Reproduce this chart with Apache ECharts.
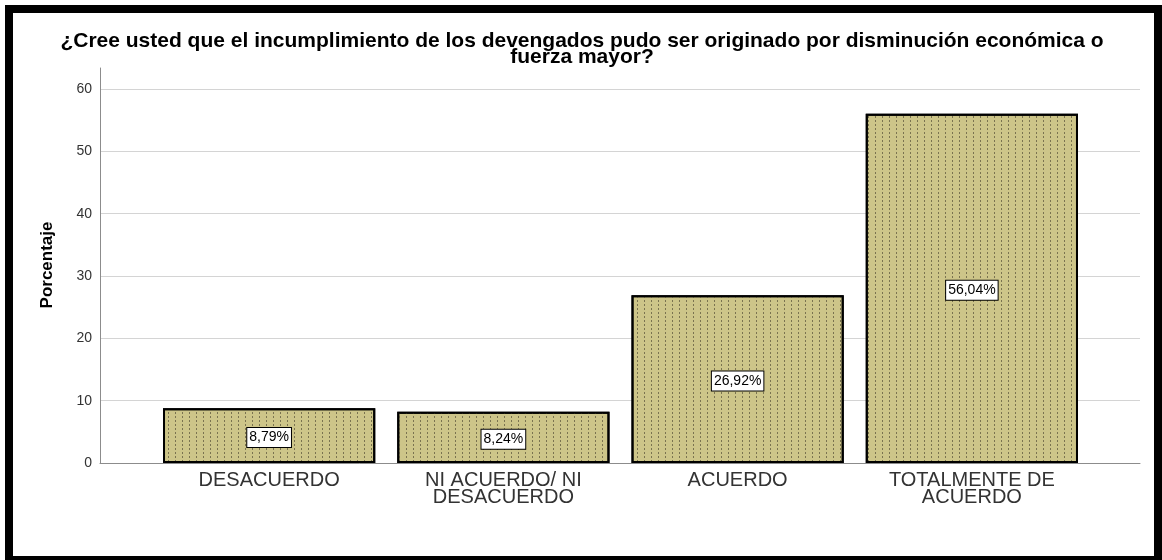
<!DOCTYPE html>
<html>
<head>
<meta charset="utf-8">
<script src="https://cdn.jsdelivr.net/npm/echarts@6/dist/echarts.min.js"></script>
<style>
html,body{margin:0;padding:0;background:#fff;}
#chart{width:1162px;height:560px;}
</style>
</head>
<body>
<div id="chart"></div>
<script>
const titleText = '¿Cree usted que el incumplimiento de los devengados pudo ser originado por disminución económica o\nfuerza mayor?';
const categories = ['DESACUERDO', 'NI ACUERDO/ NI\nDESACUERDO', 'ACUERDO', 'TOTALMENTE DE\nACUERDO'];
const percentages = [8.79, 8.24, 26.92, 56.04];
const yAxisName = 'Porcentaje';
const yMin = 0, yMax = 60, yStep = 10;

const chart = echarts.init(document.getElementById('chart'), null, {renderer: 'canvas'});
const FONT = 'Liberation Sans, Arial, sans-serif';

chart.setOption({
  backgroundColor: '#fff',
  animation: false,
  title: {
    text: titleText,
    left: 582,
    top: 33,
    padding: 0,
    textAlign: 'center',
    textStyle: {fontFamily: FONT, fontWeight: 'bold', fontSize: 21, lineHeight: 16, color: '#000'}
  },
  grid: [
    {left: 100, right: 22, top: 89, bottom: 97},
    {left: 152, right: 73, top: 89, bottom: 97},
    {left: 100, right: 22, top: 68, bottom: 97}
  ],
  xAxis: [
    {gridIndex: 0, type: 'category', data: [''], axisLine: {show: true, lineStyle: {color: '#8c8c8c', width: 1}},
     axisTick: {show: false}, axisLabel: {show: false}},
    {gridIndex: 1, type: 'category', data: categories, axisLine: {show: false}, axisTick: {show: false},
     axisLabel: {fontFamily: FONT, fontSize: 20, lineHeight: 17, color: '#333', margin: 9, interval: 0}},
    {gridIndex: 2, type: 'category', data: [''], show: false}
  ],
  yAxis: [
    {gridIndex: 0, type: 'value', min: yMin, max: yMax, interval: yStep,
     axisLine: {show: false}, axisTick: {show: false},
     splitLine: {show: true, lineStyle: {color: '#d4d4d4', width: 1}},
     axisLabel: {fontFamily: FONT, fontSize: 14, color: '#333', margin: 8},
     name: yAxisName, nameLocation: 'middle', nameGap: 44,
     nameTextStyle: {fontFamily: FONT, fontWeight: 'bold', fontSize: 17, color: '#000', padding: [0, 0, 0, 22]}},
    {gridIndex: 1, type: 'value', min: yMin, max: yMax, interval: yStep, show: false},
    {gridIndex: 2, type: 'value', min: 0, max: 1, axisLine: {show: true, lineStyle: {color: '#8c8c8c', width: 1}},
     axisTick: {show: false}, axisLabel: {show: false}, splitLine: {show: false}}
  ],
  series: [{
    type: 'bar',
    xAxisIndex: 1,
    yAxisIndex: 1,
    data: percentages,
    barCategoryGap: '9.4%',
    itemStyle: {
      color: '#cdc589',
      borderColor: '#000',
      borderWidth: 2,
      decal: {
        symbol: 'rect',
        symbolSize: 1,
        color: '#7a7350',
        dashArrayX: [1, 6],
        dashArrayY: [2, 2],
        rotation: 0
      }
    },
    label: {
      show: true,
      position: 'inside',
      offset: [0, 2],
      formatter: p => p.value.toFixed(2).replace('.', ',') + '%',
      fontFamily: FONT,
      fontSize: 14,
      lineHeight: 15,
      color: '#000',
      backgroundColor: '#fff',
      borderColor: '#000',
      borderWidth: 1,
      padding: [2, 2, 2, 2]
    }
  }],
  graphic: [{
    type: 'rect',
    silent: true,
    z: 100,
    shape: {x: 9, y: 9, width: 1149, height: 551},
    style: {fill: 'none', stroke: '#000', lineWidth: 8}
  }]
});
</script>
</body>
</html>
